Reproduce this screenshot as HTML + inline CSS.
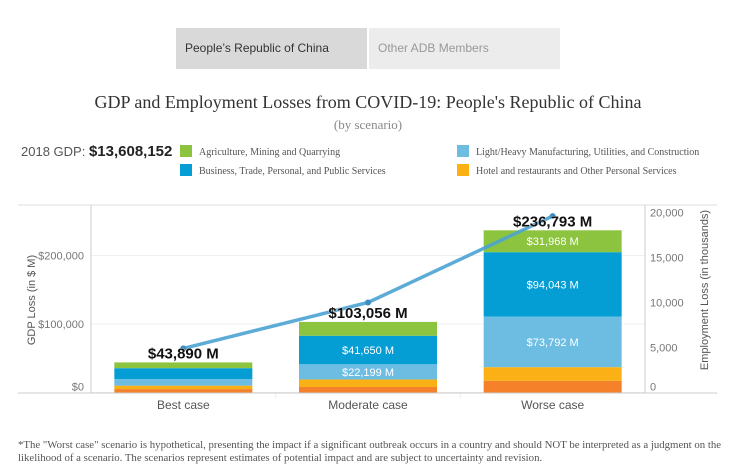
<!DOCTYPE html>
<html><head><meta charset="utf-8"><style>
body{margin:0;width:736px;height:454px;overflow:hidden;background:#fff;font-family:"Liberation Sans",sans-serif;position:relative}
.tab{position:absolute;top:28px;height:41px;width:191px;font-size:12px;line-height:41px;padding-left:9px;box-sizing:border-box}
.serif{font-family:"Liberation Serif",serif}
</style></head><body>
<div class="tab" style="left:176px;background:#d9d9d9;color:#333">People’s Republic of China</div>
<div class="tab" style="left:369px;background:#ececec;color:#999">Other ADB Members</div>
<div class="serif" style="position:absolute;top:92px;left:0;width:736px;text-align:center;font-size:18px;color:#333">GDP and Employment Losses from COVID-19: People's Republic of China</div>
<div class="serif" style="position:absolute;top:117px;left:0;width:736px;text-align:center;font-size:13px;color:#888">(by scenario)</div>
<div style="position:absolute;top:143px;left:21px;font-size:13px;color:#555">2018 GDP: <b style="font-size:15px;color:#222">$13,608,152</b></div>
<div class="serif" style="font-size:10px;color:#555">
<div style="position:absolute;left:180px;top:145px"><span style="display:inline-block;width:12px;height:12px;background:#8cc43f;vertical-align:-2px;margin-right:7px"></span>Agriculture, Mining and Quarrying</div>
<div style="position:absolute;left:180px;top:164px"><span style="display:inline-block;width:12px;height:12px;background:#049ed5;vertical-align:-2px;margin-right:7px"></span>Business, Trade, Personal, and Public Services</div>
<div style="position:absolute;left:457px;top:145px"><span style="display:inline-block;width:12px;height:12px;background:#6dbde3;vertical-align:-2px;margin-right:7px"></span>Light/Heavy Manufacturing, Utilities, and Construction</div>
<div style="position:absolute;left:457px;top:164px"><span style="display:inline-block;width:12px;height:12px;background:#fbb116;vertical-align:-2px;margin-right:7px"></span>Hotel and restaurants and Other Personal Services</div>
</div>
<svg id="chart" width="736" height="454" style="position:absolute;left:0;top:0" xmlns="http://www.w3.org/2000/svg"></svg>
<div class="serif" style="position:absolute;top:439px;left:18px;width:720px;font-size:10.8px;line-height:13px;color:#555;white-space:nowrap">*The "Worst case" scenario is hypothetical, presenting the impact if a significant outbreak occurs in a country and should NOT be interpreted as a judgment on the<br>likelihood of a scenario. The scenarios represent estimates of potential impact and are subject to uncertainty and revision.</div>
<script>
const categories=["Best case","Moderate case","Worse case"];
const orange=[5000,8000,17000];
const yellow=[5000,11000,19990];
const lightBlue=[9500,22199,73792];
const blue=[16000,41650,94043];
const green=[8390,20207,31968];
const totals=[43890,103056,236793];
const employment=[4900,10000,19600];
const leftTicks=[0,100000,200000];
const leftTickLabels=["$0","$100,000","$200,000"];
const rightTicks=[0,5000,10000,15000,20000];
const rightTickLabels=["0","5,000","10,000","15,000","20,000"];
const showLabels=[[false,false,false],[false,true,true],[false,true,true],[false,false,true]];

const svg=document.getElementById('chart');const NS="http://www.w3.org/2000/svg";
function mk(t,a,txt){const e=document.createElementNS(NS,t);for(const k in a)e.setAttribute(k,a[k]);if(txt!==undefined)e.textContent=txt;svg.appendChild(e);return e;}
const y0=392.5;
const yL=v=>y0-v*0.000685;
const yR=v=>y0-v*0.009;
const xBand=i=>91+(645-91)/3*(i+0.5);
const bw=138;
let e=mk('line',{x1:18,x2:717,y1:205,y2:205,stroke:'#ddd'});
leftTicks.forEach((t,i)=>{let g=mk('line',{x1:91,x2:645,y1:yL(t),y2:yL(t),stroke:'#f0f0f0'});
let l=mk('text',{x:84,y:yL(t)+(i==0?-2:4),'text-anchor':'end','font-size':11,fill:'#777'},leftTickLabels[i]);});
rightTicks.forEach((t,i)=>{let l=mk('text',{x:650,y:yR(t)+(i==0?-2:4),'font-size':11,fill:'#777'},rightTickLabels[i]);});
e=mk('line',{x1:91,x2:91,y1:205,y2:393,stroke:'#ccc'});
e=mk('line',{x1:645,x2:645,y1:205,y2:393,stroke:'#ccc'});
[1,2].forEach(i=>{let d=mk('line',{x1:91+(645-91)/3*i,x2:91+(645-91)/3*i,y1:393,y2:398,stroke:'#eee'});});
e=mk('text',{x:0,y:0,transform:'translate(35,300) rotate(-90)','text-anchor':'middle','font-size':11,fill:'#555'},'GDP Loss (in $ M)');
e=mk('text',{x:0,y:0,transform:'translate(708,290) rotate(-90)','text-anchor':'middle','font-size':11,fill:'#555'},'Employment Loss (in thousands)');
const series=[[orange,'#f5812a'],[yellow,'#fbb116'],[lightBlue,'#6dbde3'],[blue,'#049ed5'],[green,'#8cc43f']];
categories.forEach((c,i)=>{let base=0;const x=xBand(i)-bw/2;
 series.forEach(([arr,col],s)=>{const top=base+arr[i];
  let r=mk('rect',{x:x,y:yL(top),width:bw,height:yL(base)-yL(top),fill:col});
  if(s>=2&&showLabels[s-1][i]){let t=mk('text',{x:xBand(i),y:(yL(base)+yL(top))/2+4,'text-anchor':'middle','font-size':11,fill:'#fff'},'$'+arr[i].toLocaleString('en-US')+' M');}
  base=top;});
 let cl=mk('text',{x:xBand(i),y:409,'text-anchor':'middle','font-size':12,fill:'#555'},c);
});
e=mk('line',{x1:18,x2:717,y1:393,y2:393,stroke:'#ccc'});
const pts=employment.map((v,i)=>xBand(i)+','+yR(v)).join(' ');
e=mk('polyline',{points:pts,fill:'none',stroke:'#4aa3d3','stroke-width':3.5,'stroke-opacity':0.9});
employment.forEach((v,i)=>{let p=mk('circle',{cx:xBand(i),cy:yR(v),r:3,fill:'#3b8fc0'});});
categories.forEach((c,i)=>{
 let t=mk('text',{x:xBand(i),y:yL(totals[i])-4,'text-anchor':'middle','font-size':15,'font-weight':'bold',fill:'#111',stroke:'#fff','stroke-width':0.6,'paint-order':'stroke'},'$'+totals[i].toLocaleString('en-US')+' M');
});
</script>
</body></html>
